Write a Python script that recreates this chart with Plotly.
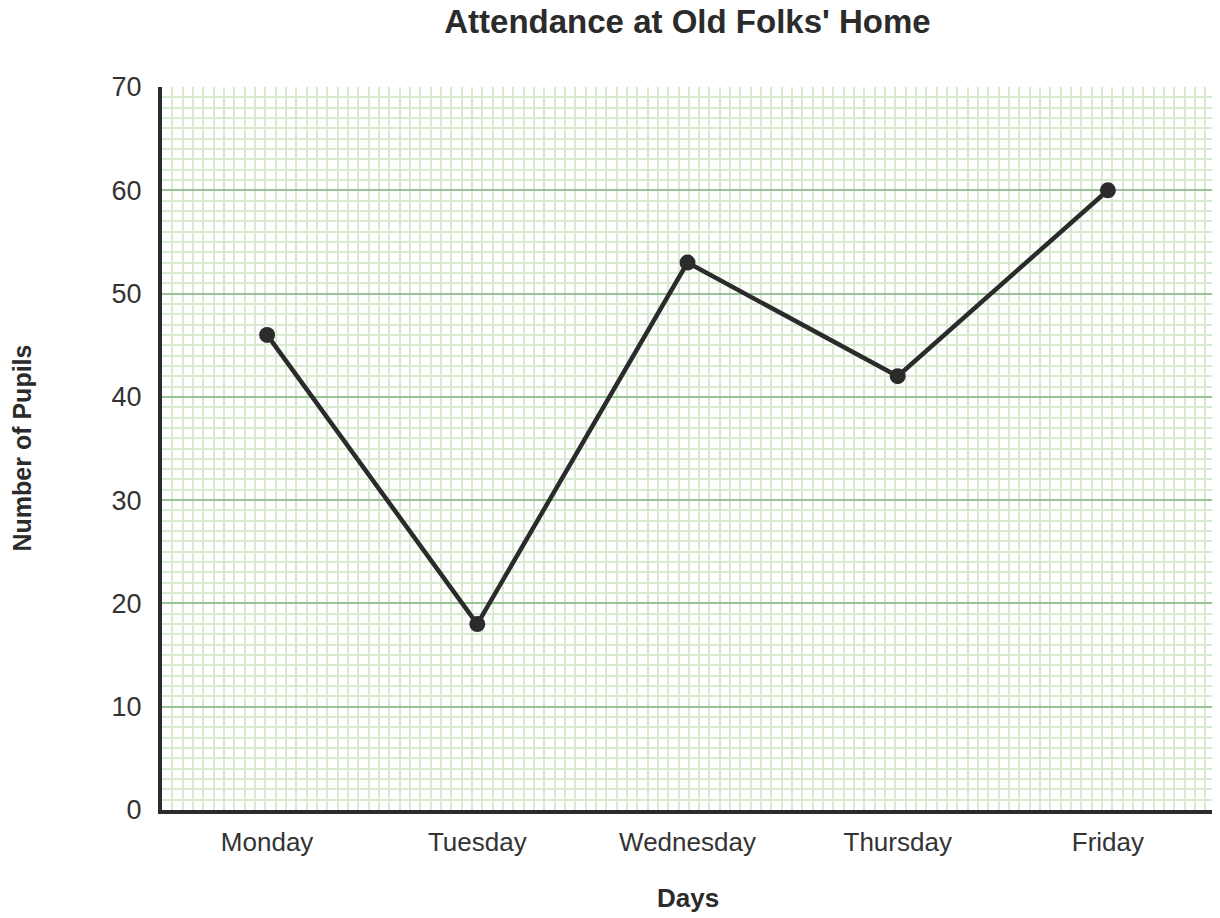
import plotly.graph_objects as go

days = ["Monday", "Tuesday", "Wednesday", "Thursday", "Friday"]
pupils = [46, 18, 53, 42, 60]

title_text = "Attendance at Old Folks' Home"
x_title = "Days"
y_title = "Number of Pupils"

FONT = "Liberation Sans, Arial, sans-serif"
INK = "#2b2b2b"
MAJOR = "#9cc29a"
MINOR = "#d8eacf"

# the page body adds an 8px offset, so the figure is a bit smaller than the window
W, H = 1212, 910
L, R, T, B = 154, 7, 79, 108
plot_w = W - L - R
cat_px = plot_w / len(days)
grid_px = 10.33  # graph-paper cell size in pixels

xs = list(range(len(days)))

fig = go.Figure()

fig.add_trace(go.Scatter(
    x=xs, y=pupils, mode="lines+markers",
    line=dict(color=INK, width=4.5),
    marker=dict(color=INK, size=16),
    showlegend=False,
))

fig.update_layout(
    width=W, height=H,
    margin=dict(l=L, r=R, t=T, b=B),
    plot_bgcolor="white", paper_bgcolor="white",
    font=dict(family=FONT, color="#333333"),
    title=dict(text=f"<b>{title_text}</b>", x=0.5, xref="paper",
               y=1 - 13 / H, yanchor="middle", xanchor="center",
               font=dict(size=33, color=INK)),
    xaxis=dict(
        range=[-0.5, len(days) - 0.5],
        tickmode="array", tickvals=xs, ticktext=days,
        showgrid=False, zeroline=False,
        minor=dict(tick0=-0.5, dtick=grid_px / cat_px, showgrid=True,
                   gridcolor=MINOR, gridwidth=2),
        showline=True, linecolor=INK, linewidth=4,
        tickfont=dict(size=26, color="#333333"), ticklabelstandoff=6,
    ),
    yaxis=dict(
        range=[0, 70], dtick=10, showgrid=True, gridcolor=MAJOR, gridwidth=2,
        minor=dict(dtick=1, showgrid=True, gridcolor=MINOR, gridwidth=2),
        zeroline=False, showline=True, linecolor=INK, linewidth=4,
        tickfont=dict(size=27, color="#333333"), ticklabelstandoff=11,
    ),
    annotations=[
        dict(text=f"<b>{x_title}</b>", xref="paper", yref="paper", x=0.5, y=0,
             yanchor="middle", yshift=-88, showarrow=False,
             font=dict(size=26, color=INK)),
        dict(text=f"<b>{y_title}</b>", xref="paper", yref="paper", x=0, y=0.5,
             xanchor="center", xshift=-141, textangle=-90, showarrow=False,
             font=dict(size=25, color=INK)),
    ],
)

fig.write_html("out.html")
